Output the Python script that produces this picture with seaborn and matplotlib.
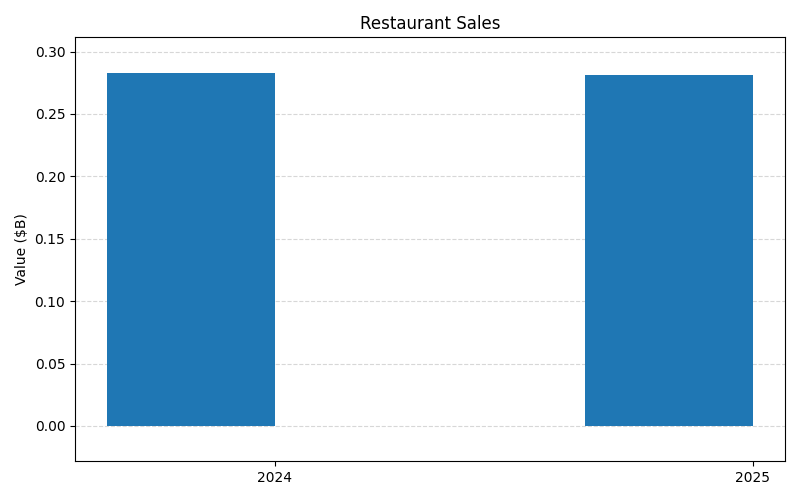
import numpy as np
import pandas as pd
import seaborn as sns
import matplotlib.pyplot as plt

years = [2024, 2025]
sales = [0.2831, 0.2815]  # $B

df = pd.DataFrame({'year': years, 'value': sales})

# plain matplotlib look: black text, default grid colour
sns.reset_orig()
plt.rcParams['font.family'] = ['DejaVu Sans']

fig, ax = plt.subplots(figsize=(8, 5), dpi=100)
sns.barplot(data=df, x='year', y='value', native_scale=True, width=0.35,
            color='#1f77b4', saturation=1, linewidth=0, ax=ax)

# bars sit to the left of their tick (right edge on the year)
for p in ax.patches:
    p.set_x(p.get_x() - p.get_width() / 2)
ax.set_xlim(2024 - 0.35 - 0.0675, 2025 + 0.0675)

top = max(sales)
ax.set_ylim(-0.1 * top, 1.1 * top)
ax.set_xticks(years)
ax.set_xticklabels([str(y) for y in years])

ax.grid(axis='y', linestyle='--', alpha=0.5)
ax.set_axisbelow(True)
ax.set_title('Restaurant Sales')
ax.set_xlabel('')
ax.set_ylabel('Value ($B)')

fig.tight_layout()
fig.savefig('out.png')
